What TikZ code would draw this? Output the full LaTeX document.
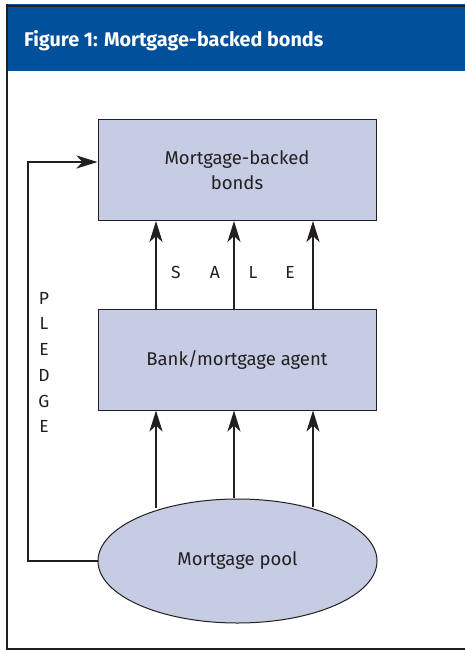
\documentclass[tikz,border=0pt]{standalone}
\usepackage{fontspec}
\setmainfont{Fira Sans}
\usetikzlibrary{arrows.meta,shapes.geometric}
\definecolor{hdrblue}{RGB}{0,80,155}
\definecolor{boxfill}{RGB}{197,204,228}
\definecolor{txt}{RGB}{35,31,32}
\tikzset{
  x=1pt,y=-1pt,
  boxnode/.style={draw=txt,line width=1pt,fill=boxfill,minimum width=278pt,minimum height=101pt,inner sep=0pt,text=txt,font=\fontsize{18.5}{25}\selectfont,align=center},
  poolnode/.style={ellipse,draw=txt,line width=1pt,fill=boxfill,minimum width=279pt,minimum height=124pt,inner sep=0pt,text=txt,font=\fontsize{18.5}{25}\selectfont},
  flow/.style={line width=2.5pt,draw=txt,-{Stealth[length=21pt,width=13pt,inset=6pt]}},
  letter/.style={text=txt,font=\fontsize{17.5}{18}\selectfont,inner sep=0pt},
}
\begin{document}
\begin{tikzpicture}
\useasboundingbox (0,0) rectangle (465,651);
\fill[white] (0,0) rectangle (465,651);
% header
\fill[hdrblue] (7,4) rectangle (465,71);
\draw[txt,line width=2pt] (7,5.5) -- (465,5.5);
\node[anchor=base west,text=white,font=\fontsize{19.8}{22}\selectfont\bfseries,inner sep=0pt] (title) at (24,46) {Figure 1: Mortgage-backed bonds};
% frame
\draw[txt,line width=2pt] (7,4) -- (7,649) -- (465,649);
% nodes
\node[boxnode] (mbb) at (237,170) {Mortgage-backed\\bonds};
\node[boxnode] (bank) at (237,359.5) {Bank/mortgage agent};
\node[poolnode] (pool) at (237.5,561) {Mortgage pool};
% sale arrows
\draw[flow] (bank.north -| 156,0) -- (mbb.south -| 156,0);
\draw[flow] (bank.north -| 234,0) -- (mbb.south -| 234,0);
\draw[flow] (bank.north -| 313,0) -- (mbb.south -| 313,0);
% pool arrows
\coordinate (p1) at (156,508);
\coordinate (p2) at (234,498);
\coordinate (p3) at (313,507);
\draw[flow] (p1) -- (bank.south -| p1);
\draw[flow] (p2) -- (bank.south -| p2);
\draw[flow] (p3) -- (bank.south -| p3);
% pledge
\coordinate (c1) at (28,561);
\coordinate (c2) at (28,162);
\draw[flow] (pool.west) -- (c1) -- (c2) -- (mbb.west |- c2);
% letters
\node[letter] (s) at (176,272) {S};
\node[letter] (a) at (215,272) {A};
\node[letter] (l) at (253,272) {L};
\node[letter] (e) at (290,272) {E};
\node[letter] (lp) at (44,298) {P};
\node[letter] (ll) at (44,323) {L};
\node[letter] (le) at (44,349) {E};
\node[letter] (ld) at (44,375) {D};
\node[letter] (lg) at (44,401) {G};
\node[letter] (le2) at (44,426) {E};
\end{tikzpicture}
\end{document}
